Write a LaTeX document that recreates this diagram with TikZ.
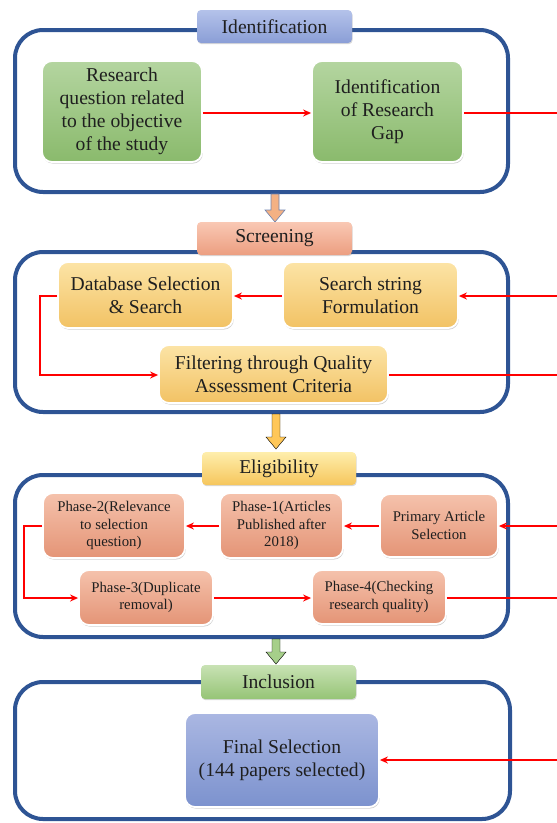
\documentclass[tikz,border=0pt]{standalone}
\usepackage{fontspec}
\setmainfont{Liberation Serif}
\usetikzlibrary{shadows,arrows.meta}
\definecolor{obl}{RGB}{46,84,148}
\definecolor{gT}{RGB}{180,213,160}
\definecolor{gB}{RGB}{138,186,108}
\definecolor{yT}{RGB}{252,228,166}
\definecolor{yB}{RGB}{242,194,100}
\definecolor{sT}{RGB}{245,194,172}
\definecolor{sB}{RGB}{228,148,118}
\definecolor{bT}{RGB}{170,183,226}
\definecolor{bB}{RGB}{124,146,206}
\definecolor{hbT}{RGB}{180,194,234}
\definecolor{hbB}{RGB}{138,158,214}
\definecolor{hsT}{RGB}{249,200,180}
\definecolor{hsB}{RGB}{236,158,128}
\definecolor{hyT}{RGB}{254,238,172}
\definecolor{hyB}{RGB}{246,198,92}
\definecolor{hgT}{RGB}{200,226,180}
\definecolor{hgB}{RGB}{150,196,118}
\definecolor{ar1}{RGB}{244,177,131}
\definecolor{ar1d}{RGB}{110,130,175}
\definecolor{ar2}{RGB}{255,199,88}
\definecolor{ar3}{RGB}{166,207,138}
\newcommand\blkarrow[4]{%
  \filldraw[#1] (#2-4,#3) -- (#2+4,#3) -- (#2+4,#4-12) -- (#2+10,#4-12) -- (#2,#4) -- (#2-10,#4-12) -- (#2-4,#4-12) -- cycle;}
\tikzset{
  txt/.style={font=\fontsize{19.6}{23}\selectfont, text=black!88, align=center, inner sep=2pt},
  small/.style={font=\fontsize{14.8}{17.5}\selectfont},
  outerbox/.style={draw=obl, line width=4pt, rounded corners=28pt},
  card/.style={txt, rounded corners=10pt, draw=white, line width=1.8pt,
    drop shadow={opacity=0.35, shadow xshift=0.8pt, shadow yshift=-1.6pt}},
  gcard/.style={card, top color=gT, bottom color=gB},
  ycard/.style={card, top color=yT, bottom color=yB},
  scard/.style={card, top color=sT, bottom color=sB},
  bcard/.style={card, top color=bT, bottom color=bB},
  hdr/.style={txt, rounded corners=4pt, draw=none,
    drop shadow={opacity=0.3, shadow xshift=0.6pt, shadow yshift=-1.2pt}},
  flow/.style={draw=red, line width=2pt, -{Stealth[length=8pt,width=7pt]}},
  rline/.style={draw=red, line width=2pt},
}
\begin{document}
\begin{tikzpicture}[x=1pt,y=-1pt]
\useasboundingbox (0,0) rectangle (557,823);
% outer boxes
\node[outerbox, minimum width=493pt, minimum height=162pt] (b1) at (261.5,111) {};
\node[outerbox, minimum width=493pt, minimum height=160pt] (b2) at (261.5,332) {};
\node[outerbox, minimum width=493pt, minimum height=162pt] (b3) at (261.5,556) {};
\node[outerbox, minimum width=495pt, minimum height=137pt] (b4) at (262.5,750.5) {};
% block arrows
\blkarrow{fill=ar1, draw=ar1d, line width=0.6pt}{275}{194}{222}
\blkarrow{fill=ar2}{276}{414}{449}
\blkarrow{fill=ar3}{276}{639}{664}
% headers
\node[hdr, top color=hbT, bottom color=hbB, minimum width=155pt, minimum height=33pt] (h1) at (274.5,26.5) {Identification};
\node[hdr, top color=hsT, bottom color=hsB, minimum width=155pt, minimum height=33pt] (h2) at (274.5,238.5) {Screening};
\node[hdr, top color=hyT, bottom color=hyB, minimum width=154pt, minimum height=33pt] (h3) at (279,468.5) {Eligibility};
\node[hdr, top color=hgT, bottom color=hgB, minimum width=155pt, minimum height=34pt] (h4) at (278.5,682) {Inclusion};
% identification
\node[gcard, minimum width=160pt, minimum height=101pt] (rq) at (122,111.5) {Research\\question related\\to the objective\\of the study};
\node[gcard, minimum width=151pt, minimum height=101pt] (gap) at (387.5,111.5) {Identification\\of Research\\Gap};
% screening
\node[ycard, minimum width=175pt, minimum height=66pt] (db) at (145.5,295) {Database Selection\\\& Search};
\node[ycard, minimum width=175pt, minimum height=66pt] (ss) at (370.5,295) {Search string\\Formulation};
\node[ycard, minimum width=229pt, minimum height=58pt] (fq) at (273.5,374) {Filtering through Quality\\Assessment Criteria};
% eligibility
\node[scard, small, minimum width=142pt, minimum height=65pt] (p2) at (114,525.5) {Phase-2(Relevance\\to selection\\question)};
\node[scard, small, minimum width=123pt, minimum height=65pt] (p1) at (281.5,525.5) {Phase-1(Articles\\Published after\\2018)};
\node[scard, small, minimum width=118pt, minimum height=63pt] (pa) at (439,525.5) {Primary Article\\Selection};
\node[scard, small, minimum width=134pt, minimum height=55pt] (p3) at (146,597.5) {Phase-3(Duplicate\\removal)};
\node[scard, small, minimum width=134pt, minimum height=54pt] (p4) at (379,597) {Phase-4(Checking\\research quality)};
% inclusion
\node[bcard, minimum width=194pt, minimum height=94pt] (fs) at (282,760) {Final Selection\\(144 papers selected)};
% free ends at right edge
\coordinate (e1) at (557,113);
\coordinate (e2) at (557,296);
\coordinate (e3) at (557,375);
\coordinate (e4) at (557,526);
\coordinate (e5) at (557,598);
\coordinate (e6) at (557,760);
% connectors
\draw[flow] (rq.east |- 0,113) -- (gap.west |- 0,113);
\draw[rline] (gap.east |- 0,113) -- (e1);
\draw[flow] (e2) -- (ss.east |- e2);
\draw[flow] (ss.west |- e2) -- (db.east |- e2);
\draw[flow] (db.west |- e2) -- ++(-17,0) |- (fq.west |- e3);
\draw[rline] (fq.east |- e3) -- (e3);
\draw[flow] (e4) -- (pa.east |- e4);
\draw[flow] (pa.west |- e4) -- (p1.east |- e4);
\draw[flow] (p1.west |- e4) -- (p2.east |- e4);
\draw[flow] (p2.west |- e4) -- ++(-18,0) |- (p3.west |- e5);
\draw[flow] (p3.east |- e5) -- (p4.west |- e5);
\draw[rline] (p4.east |- e5) -- (e5);
\draw[flow] (e6) -- (fs.east);
\end{tikzpicture}
\end{document}
